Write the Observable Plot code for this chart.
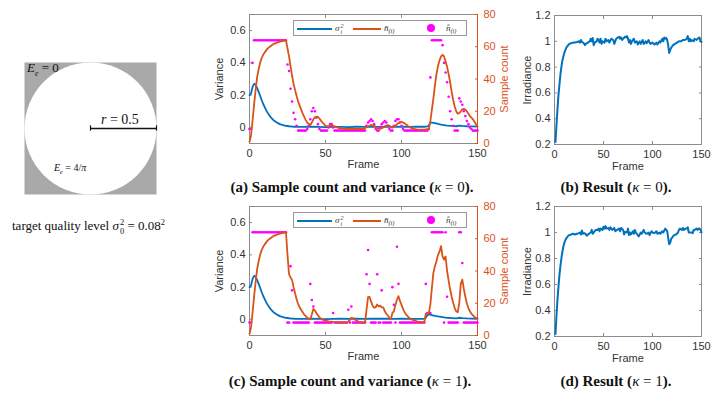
<!DOCTYPE html>
<html><head><meta charset="utf-8">
<script src="https://cdn.jsdelivr.net/npm/d3@7"></script>
<script src="https://cdn.jsdelivr.net/npm/@observablehq/plot@0.6"></script>
<style>
body{margin:0;background:#fff;}
#root{position:relative;width:720px;height:397px;overflow:hidden;background:#fff;font-family:"Liberation Sans",Arial,sans-serif;}
.cap{position:absolute;font-family:"Liberation Serif","Times New Roman",serif;font-weight:bold;font-size:15px;line-height:18px;color:#111;white-space:nowrap;transform:translateX(-50%);}
.cap .m{font-weight:normal;}
.lbl{position:absolute;font-family:"Liberation Serif","Times New Roman",serif;color:#111;white-space:nowrap;}
.legend{position:absolute;width:174px;height:16px;border:1px solid #9a9a9a;background:#fff;box-sizing:border-box;}
.legend .sw{position:absolute;top:7px;height:2px;}
.legend .dt{position:absolute;top:3px;width:8px;height:8px;border-radius:50%;background:#FF00FF;}
.legend .lt{position:absolute;top:1px;font-family:"Liberation Serif","Times New Roman",serif;font-style:italic;font-size:9px;line-height:12px;color:#333;}
.ss{display:inline-block;vertical-align:middle;font-size:0.65em;line-height:1.05em;text-align:left;margin-left:1px;}
.ss span{display:block;}
</style></head><body><div id="root"></div>
<script>
// ---------- data ----------
const xTicks = [0, 50, 100, 150];
const varTicks = [0, 0.2, 0.4, 0.6];
const countTicks = [0, 20, 40, 60, 80];
const irrTicks = [0.2, 0.4, 0.6, 0.8, 1, 1.2];

// variance sigma_i^2 (frame, value)
const varianceA = [[0,.20],[1,.21],[2,.25],[3,.27],[4,.265],[5,.245],[6,.22],[7,.195],[8,.17],[9,.145],[10,.125],[11,.105],[12,.09],[13,.075],[14,.062],[15,.052],[16,.043],[17,.036],[18,.030],[19,.025],[20,.020],[22,.014],[24,.010],[26,.007],[28,.005],[30,.004],[35,.003],[40,.004],[45,.003],[50,.002],[55,.003],[60,.003],[65,.002],[70,.004],[75,.003],[80,.004],[85,.003],[90,.004],[95,.003],[100,.004],[105,.003],[110,.004],[115,.004],[117,.006],[118,.012],[119,.030],[120,.030],[122,.026],[124,.021],[126,.017],[128,.014],[130,.011],[133,.009],[136,.007],[138,.011],[140,.009],[143,.007],[146,.006],[150,.005]];
const varianceC = [[0,.20],[1,.21],[2,.25],[3,.27],[4,.265],[5,.245],[6,.22],[7,.195],[8,.17],[9,.145],[10,.125],[11,.105],[12,.09],[13,.075],[14,.062],[15,.052],[16,.043],[17,.036],[18,.030],[19,.025],[20,.020],[22,.014],[24,.010],[26,.007],[28,.005],[30,.004],[35,.003],[40,.004],[45,.003],[50,.002],[55,.003],[60,.004],[65,.003],[70,.004],[75,.003],[80,.005],[85,.004],[90,.004],[95,.003],[100,.004],[105,.003],[110,.003],[115,.004],[116,.010],[117,.026],[118,.030],[119,.030],[120,.027],[122,.022],[124,.018],[126,.015],[128,.012],[130,.010],[133,.008],[136,.006],[138,.010],[140,.008],[143,.006],[146,.005],[150,.004]];

// mean sample count n-bar (frame, count)
const nBarA = [[0,1],[1,5],[2,14],[3,24],[4,33],[5,41],[6,46],[7,50],[8,53],[9,55],[10,56.5],[12,59],[14,60.5],[16,61.8],[18,62.6],[20,63.2],[22,63.6],[24,64],[25,59],[26,54],[27,48],[28,42],[29,37],[30,33],[31,29.5],[32,26],[33,23.5],[34,21],[35,18.5],[36,16.5],[37,14.5],[38,13],[39,12],[40,11.5],[41,13],[42,15],[43,16.2],[44,16.7],[45,16.5],[46,15.5],[47,14.2],[48,13],[49,12],[50,11],[52,10.6],[54,11.5],[56,10.6],[58,9.8],[60,9.2],[65,9],[70,9],[75,9],[78,10.5],[80,11.5],[82,11],[84,9.5],[86,9],[88,10],[90,11.2],[92,11],[94,9.8],[96,11],[98,12.8],[100,13.5],[102,12.5],[104,11],[106,9.8],[108,9],[110,8.8],[115,8.6],[118,9],[119,14],[120,21],[121,28],[122,36],[123,43],[124,48],[125,51.5],[126,54],[127,55],[128,54],[129,51],[130,47.5],[131,43],[132,38],[133,32],[134,27],[135,23],[136,20],[137,18.5],[138,18.8],[139,20],[140,21.2],[141,21.5],[142,21],[143,20],[144,18.5],[145,17],[146,16],[147,15],[148,13.5],[149,12],[150,10.5]];
const nBarC = [[0,1],[1,5],[2,14],[3,24],[4,33],[5,41],[6,46],[7,50],[8,53],[9,55],[10,56.5],[12,59],[14,60.5],[16,61.8],[18,62.6],[20,63.2],[22,63.6],[24,64],[25,50],[26,38],[27,36],[28,34.5],[29,30],[30,26],[31,22.5],[32,19.5],[33,17.5],[34,15.8],[35,14.5],[36,13],[37,12],[38,11],[39,10.3],[40,10],[41,13],[42,16.5],[43,15.5],[44,14],[45,12.5],[46,11.2],[47,10.5],[48,9.8],[50,9.2],[52,8.8],[55,8.5],[60,8.2],[64,8],[66,9.5],[67,11],[68,10.8],[70,9.5],[72,8.5],[74,8],[76,8],[77,16],[78,23.8],[79,24],[80,21],[81,18.5],[82,17.2],[83,17.5],[84,19.2],[85,18],[86,18.5],[87,17.5],[88,17.5],[89,15],[90,13.5],[91,12.4],[92,11],[93,10],[94,14],[95,15],[96,19],[97,22],[98,24.4],[99,21.5],[100,19],[101,16.5],[102,14.5],[103,13],[104,12],[105,11],[106,10.2],[108,9.5],[110,8.8],[112,8.4],[115,8.2],[116,13.5],[117,13.5],[118,14],[119,19.2],[120,29.6],[121,39],[122,43],[123,46],[124,50],[125,52],[126,55.4],[127,49],[128,47],[129,49],[130,40],[131,34],[132,28.5],[133,24],[134,20.3],[135,17],[136,15],[137,14.5],[138,20],[139,32],[140,34.7],[141,29],[142,24],[143,20],[144,17],[145,15],[146,13.5],[147,12.5],[148,11.5],[149,11],[150,10.5]];

// per-frame sample count n-hat, frames 0..150
const nHatA = [
 9,9,50,64,64,64,64,64,64,64,
 64,64,64,64,64,64,64,64,64,64,
 64,64,64,64,64,49,45,34,26,19,
 15,11,8,8,8,8,8,8,9,11,
 15,20,22,20,16,12,9,8,8,8,
 8,8,10,12,12,10,8,8,8,8,
 8,8,8,8,8,8,8,8,8,8,
 8,8,8,8,8,8,8,11,13,14,
 15,14,12,9,8,8,10,12,13,14,
 13,11,9,8,8,11,14,15,15,13,
 11,9,8,8,8,8,8,8,8,8,
 8,8,8,8,8,8,8,8,9,41,
 64,64,64,64,64,64,64,61,50,44,
 38,29,20,15,11,8,8,8,28,26,
 24,20,17,14,12,10,9,8,8,8,
 8];
const nHatC = [
 8,8,64,64,64,64,64,64,64,64,
 64,64,64,64,64,64,64,64,64,64,
 64,64,64,64,64,8,8,43,28,8,
 8,8,8,8,8,8,8,8,8,8,
 32,22,18,8,8,8,8,8,8,8,
 8,8,8,8,8,14,8,8,8,8,
 8,8,8,8,8,16,8,18,8,8,
 8,8,8,8,8,8,8,38,53,32,
 8,8,8,8,38,8,8,28,8,8,
 8,8,8,8,30,19,8,55,32,8,
 8,8,8,8,8,8,8,8,8,8,
 8,8,8,8,8,8,32,14,14,14,
 64,64,64,64,64,64,64,64,8,64,
 24,8,8,8,8,8,8,8,64,64,
 45,8,8,8,8,8,8,8,8,8,
 8];

// irradiance result (frame, value)
const irradianceB = [[1,.22],[2,.35],[3,.47],[4,.58],[5,.66],[6,.74],[7,.80],[8,.85],[9,.88],[10,.91],[11,.93],[12,.95],[13,.96],[14,.97],[15,.98],[17,.985],[19,.99],[21,.99],[23,.995],[25,1.0],[26,.99],[27,1.01],[28,.995],[30,.985],[31,.97],[32,.98],[34,.99],[36,1.0],[37,1.02],[38,1.0],[39,1.025],[40,.97],[41,.99],[43,1.0],[44,1.02],[45,1.01],[46,.99],[47,1.02],[48,.98],[49,1.0],[51,.99],[52,1.02],[53,1.0],[55,1.01],[56,.99],[58,1.02],[60,1.01],[61,.98],[63,1.02],[65,1.03],[66,1.035],[67,1.02],[68,1.03],[69,1.01],[70,1.02],[72,1.035],[73,1.03],[74,1.04],[75,1.02],[76,.99],[77,1.01],[78,.98],[79,1.0],[81,1.02],[82,.99],[84,1.0],[85,.975],[87,1.0],[88,.98],[90,1.01],[91,.98],[93,1.0],[94,.985],[96,1.01],[97,.99],[98,.98],[100,.99],[102,.975],[104,.99],[105,.975],[107,1.0],[108,.99],[110,1.02],[111,1.0],[112,1.03],[113,1.02],[114,1.025],[115,1.01],[116,.97],[117,.91],[118,.93],[119,.95],[121,.97],[123,.98],[125,.99],[127,1.0],[129,1.0],[131,1.01],[133,1.01],[135,1.02],[136,1.04],[137,1.0],[138,1.02],[139,1.0],[140,1.01],[142,1.0],[143,1.02],[145,1.01],[146,1.02],[148,1.03],[149,1.0],[150,.995]];
const irradianceD = [[1,.22],[2,.36],[3,.48],[4,.58],[5,.67],[6,.74],[7,.80],[8,.85],[9,.89],[10,.92],[11,.94],[12,.955],[13,.965],[14,.975],[15,.98],[17,.985],[19,.99],[21,.985],[23,.99],[25,.995],[26,1.0],[27,.985],[28,1.015],[29,.99],[31,.995],[33,.975],[35,.99],[37,1.0],[38,1.02],[39,.99],[41,1.01],[42,1.02],[44,1.02],[45,1.03],[46,1.01],[47,1.03],[49,1.02],[50,1.045],[51,1.03],[52,1.05],[53,1.03],[55,1.035],[56,1.02],[57,1.04],[59,1.02],[61,1.035],[62,1.01],[64,1.02],[66,1.03],[67,1.01],[68,1.035],[70,1.02],[71,.985],[72,1.005],[74,1.0],[75,1.03],[76,.98],[77,1.0],[78,.985],[80,1.01],[81,.99],[82,1.02],[83,1.0],[85,.98],[86,.97],[88,1.0],[89,.99],[91,1.02],[92,1.0],[94,.99],[96,1.0],[97,.98],[99,1.01],[100,1.0],[102,.995],[104,1.01],[105,.99],[107,1.0],[108,.99],[110,1.01],[111,1.0],[113,1.03],[114,1.02],[115,1.01],[116,.96],[117,.91],[118,.92],[119,.95],[120,.96],[122,.98],[124,.985],[126,1.0],[127,1.02],[128,1.03],[130,1.02],[131,1.035],[132,1.02],[134,1.03],[135,1.03],[136,1.04],[137,1.0],[138,1.0],[140,1.0],[141,.995],[142,1.02],[143,1.02],[145,1.03],[146,1.02],[147,1.03],[148,1.03],[149,1.02],[150,1.0]];

// illustration: unit square with inscribed disc of radius 0.5
const illusSquare = [0, 1];
const illusCenter = [{x: 0.5, y: 0.5}];
const illusRadius = [{x1: 0.5, x2: 1.0, y: 0.5}];
const illusRadiusEnds = [0.5, 1.0];

// ---------- style ----------
const FONT = '"Liberation Sans", Arial, Helvetica, sans-serif';
const BLUE = "#0072BD", ORANGE = "#D95319", MAGENTA = "#FF00FF";
const AXIS = "#8c8c8c", TEXT = "#333333", GRAY = "#a9a9a9";
const root = document.getElementById("root");
function place(node, left, top) {
  node.style.position = "absolute"; node.style.left = left + "px"; node.style.top = top + "px";
  root.appendChild(node); return node;
}
const baseStyle = () => ({background: "transparent", fontFamily: FONT, fontSize: "11px", color: TEXT, overflow: "visible"});
const PV = {width: 320, height: 180, marginLeft: 49, marginRight: 43, marginTop: 14, marginBottom: 37};
const fx = d => d[0], fy = d => d[1];

function variancePlot(series) {
  return Plot.plot({...PV, style: baseStyle(),
    x: {domain: [0, 150]}, y: {domain: [-0.1, 0.7]},
    marks: [
      Plot.frame({stroke: AXIS}),
      Plot.axisX({ticks: xTicks, tickSize: -3, tickPadding: 9, stroke: AXIS, fill: TEXT, label: null, tickFormat: d => String(d)}),
      Plot.axisX({anchor: "top", ticks: xTicks, tickSize: -3, stroke: AXIS, fill: "none", label: null}),
      Plot.axisY({ticks: varTicks, tickSize: -3, tickPadding: 7, stroke: AXIS, fill: TEXT, label: null, tickFormat: d => String(d)}),
      Plot.text(["Frame"], {text: d => d, frameAnchor: "bottom", lineAnchor: "middle", dy: 21, fill: TEXT}),
      Plot.text(["Variance"], {text: d => d, frameAnchor: "left", textAnchor: "middle", lineAnchor: "middle", rotate: -90, dx: -30, fill: TEXT}),
      Plot.line(series, {x: fx, y: fy, stroke: BLUE, strokeWidth: 1.8})
    ]});
}
function countPlot(nbar, nhat) {
  return Plot.plot({...PV, style: baseStyle(),
    x: {domain: [0, 150], axis: null}, y: {domain: [0, 80]},
    marks: [
      Plot.frame({anchor: "right", stroke: ORANGE}),
      Plot.axisY({anchor: "right", ticks: countTicks, tickSize: -3, tickPadding: 9, stroke: ORANGE, fill: ORANGE, label: null}),
      Plot.text(["Sample count"], {text: d => d, frameAnchor: "right", textAnchor: "middle", lineAnchor: "middle", rotate: -90, dx: 27, fill: ORANGE}),
      Plot.dot(nhat, {x: (d, i) => i, y: d => d, r: 1.3, fill: MAGENTA}),
      Plot.line(nbar, {x: fx, y: fy, stroke: ORANGE, strokeWidth: 1.8})
    ]});
}
function irradiancePlot(series, mt, mb) {
  return Plot.plot({width: 240, height: 180, marginLeft: 74, marginRight: 19, marginTop: mt, marginBottom: mb, style: baseStyle(),
    x: {domain: [0, 150]}, y: {domain: [0.2, 1.2]},
    marks: [
      Plot.frame({stroke: AXIS}),
      Plot.axisX({ticks: xTicks, tickSize: -3, tickPadding: 9, stroke: AXIS, fill: TEXT, label: null, tickFormat: d => String(d)}),
      Plot.axisX({anchor: "top", ticks: xTicks, tickSize: -3, stroke: AXIS, fill: "none", label: null}),
      Plot.axisY({ticks: irrTicks, tickSize: -3, tickPadding: 7, stroke: AXIS, fill: TEXT, label: null, tickFormat: d => String(d)}),
      Plot.axisY({anchor: "right", ticks: irrTicks, tickSize: -3, stroke: AXIS, fill: "none", label: null}),
      Plot.text(["Frame"], {text: d => d, frameAnchor: "bottom", lineAnchor: "middle", dy: 22, fill: TEXT}),
      Plot.text(["Irradiance"], {text: d => d, frameAnchor: "left", textAnchor: "middle", lineAnchor: "middle", rotate: -90, dx: -27, fill: TEXT}),
      Plot.line(series, {x: fx, y: fy, stroke: BLUE, strokeWidth: 2})
    ]});
}
function legend(left, top) {
  const d = document.createElement("div");
  d.className = "legend";
  d.innerHTML =
    `<span class="sw" style="left:3px;width:35px;background:${BLUE}"></span>` +
    `<span class="lt" style="left:41px">σ<span class="ss"><span>2</span><span>i</span></span></span>` +
    `<span class="sw" style="left:59px;width:28px;background:${ORANGE}"></span>` +
    `<span class="lt" style="left:90px">n̄<span style="font-size:0.7em;vertical-align:-2px">(i)</span></span>` +
    `<span class="dt" style="left:133px"></span>` +
    `<span class="lt" style="left:152px">n̂<span style="font-size:0.7em;vertical-align:-2px">(i)</span></span>`;
  return place(d, left, top);
}
function caption(html, cx, top) {
  const d = document.createElement("div");
  d.className = "cap"; d.innerHTML = html;
  d.style.left = cx + "px"; d.style.top = top + "px";
  root.appendChild(d);
}
function label(html, left, top, size) {
  const d = document.createElement("div");
  d.className = "lbl"; d.innerHTML = html;
  d.style.fontSize = size + "px";
  return place(d, left, top);
}

// ---------- illustration ----------
const IL = {width: 200, height: 260, marginLeft: 24, marginRight: 44, marginTop: 62, marginBottom: 66};
const discR = (IL.width - IL.marginLeft - IL.marginRight) / 2;
place(Plot.plot({...IL, style: baseStyle(),
  x: {domain: illusSquare, axis: null}, y: {domain: illusSquare, axis: null},
  marks: [
    Plot.frame({fill: GRAY, stroke: "none"}),
    Plot.dot(illusCenter, {x: "x", y: "y", r: discR, fill: "white"}),
    Plot.link(illusRadius, {x1: "x1", x2: "x2", y1: "y", y2: "y", stroke: "#111", strokeWidth: 1.4}),
    Plot.ruleX(illusRadiusEnds, {x: d => d, y1: 0.48, y2: 0.52, stroke: "#111", strokeWidth: 1.2})
  ]}), 0, 0);
label(`<i>E</i><sub style="font-size:0.6em"><i>e</i></sub> = 0`, 27, 60, 13);
label(`<i>r</i> = 0.5`, 101, 112, 14);
label(`<i>E</i><sub style="font-size:0.6em"><i>e</i></sub> = 4/<i>π</i>`, 54, 162, 10);
label(`target quality level <i>σ</i><span class="ss"><span>2</span><span>0</span></span> = 0.08<sup style="font-size:0.65em">2</sup>`, 12, 217, 13);

// ---------- panels ----------
place(variancePlot(varianceA), 200, 0);
place(countPlot(nBarA, nHatA), 200, 0);
place(irradiancePlot(irradianceB, 15, 36), 480, 0);
place(variancePlot(varianceC), 200, 192);
place(countPlot(nBarC, nHatC), 200, 192);
place(irradiancePlot(irradianceD, 15, 35), 480, 191);
legend(293, 20);
legend(293, 212);

caption(`(a) Sample count and variance (<span class="m"><i>κ</i> = 0</span>).`, 352, 178);
caption(`(b) Result (<span class="m"><i>κ</i> = 0</span>).`, 616, 178);
caption(`(c) Sample count and variance (<span class="m"><i>κ</i> = 1</span>).`, 350, 372);
caption(`(d) Result (<span class="m"><i>κ</i> = 1</span>).`, 616, 372);
</script></body></html>
